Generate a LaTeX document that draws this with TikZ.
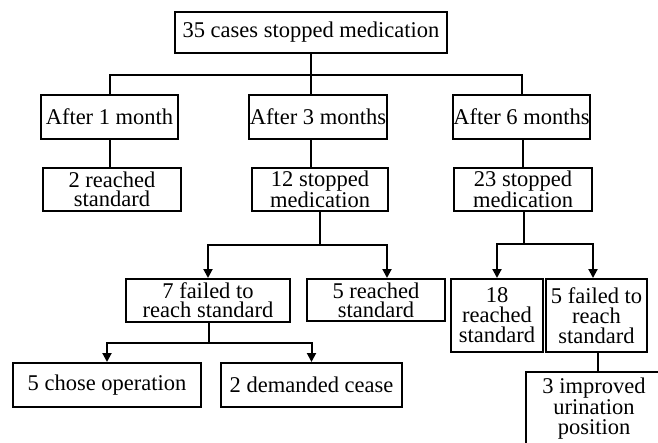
\documentclass[tikz,border=0pt]{standalone}
\usepackage{fontspec}
\setmainfont{Liberation Serif}
\usetikzlibrary{arrows.meta}
\begin{document}
\begin{tikzpicture}[x=1pt,y=-1pt,
  box/.style={draw, line width=2pt, inner sep=0pt, align=center,
    font=\fontsize{22.5}{19}\selectfont},
  conn/.style={line width=2pt},
  arr/.style={conn, -{Triangle[width=9pt,length=9pt]}}]
\clip (0,0) rectangle (658,442);
\fill[white] (0,0) rectangle (658,442);
% nodes
\node[box, minimum width=272pt, minimum height=41pt] (top) at (311,32.5) {35 cases stopped medication};
\node[box, minimum width=137pt, minimum height=44pt] (m1) at (109.5,117) {After 1 month};
\node[box, minimum width=138pt, minimum height=44pt] (m3) at (318,117) {After 3 months};
\node[box, minimum width=137pt, minimum height=44pt] (m6) at (521.5,117) {After 6 months};
\node[box, minimum width=138pt, minimum height=43pt] (r2) at (112,189.5) {2 reached\\standard};
\node[box, minimum width=136pt, minimum height=43pt] (s12) at (320,189.5) {12 stopped\\medication};
\node[box, minimum width=138pt, minimum height=43pt] (s23) at (523,189.5) {23 stopped\\medication};
\node[box, minimum width=164pt, minimum height=43pt] (f7) at (208,300.5) {7 failed to\\reach standard};
\node[box, minimum width=138pt, minimum height=42pt] (r5) at (376,300) {5 reached\\standard};
\node[box, minimum width=92pt, minimum height=73pt, font=\fontsize{22.5}{20}\selectfont] (r18) at (497,315.5) {18\\reached\\standard};
\node[box, minimum width=101pt, minimum height=73pt, font=\fontsize{22.5}{20}\selectfont] (f5) at (596.5,315.5) {5 failed to\\reach\\standard};
\node[box, minimum width=188pt, minimum height=44pt] (op) at (107,385) {5 chose operation};
\node[box, minimum width=181pt, minimum height=44pt] (dc) at (311.5,385) {2 demanded cease};
\node[box, minimum width=136pt, minimum height=74pt, font=\fontsize{22.5}{20.5}\selectfont] (imp) at (594,409) {3 improved\\urination\\position};
% connectors
\coordinate (j1) at (311,75);
\draw[conn] (top.south -| j1) -- (j1);
\draw[conn] (m1.north) |- (j1) -| (m6.north);
\draw[conn] (j1) -- (m3.north -| j1);
\draw[conn] (m1.south) -- (m1.south |- r2.north);
\draw[conn] (m3.south -| j1) -- (s12.north -| j1);
\draw[conn] (s23.north) -- (s23.north |- m6.south);
\coordinate (j2) at (320,245);
\draw[conn] (s12.south) -- (j2);
\draw[arr] (j2) -| (f7.north);
\draw[arr] (j2) -| ([xshift=11pt]r5.north);
\coordinate (j3) at (524,244);
\draw[conn] (s23.south -| j3) -- (j3);
\draw[arr] (j3) -| (r18.north);
\draw[arr] (j3) -| ([xshift=-3.5pt]f5.north);
\coordinate (j4) at (209,343);
\draw[conn] (f7.south -| j4) -- (j4);
\draw[arr] (j4) -| (op.north);
\draw[arr] (j4) -| (dc.north);
\draw[conn] ([xshift=1.5pt]f5.south) -- ([xshift=1.5pt]f5.south |- imp.north);
\end{tikzpicture}
\end{document}
